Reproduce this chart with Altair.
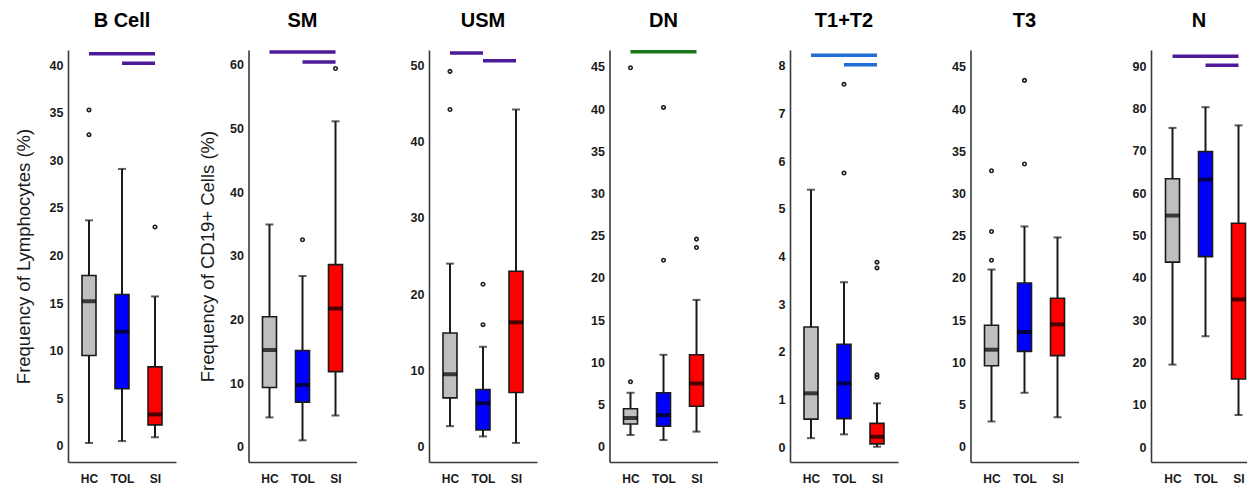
import altair as alt
import pandas as pd

panels = ["B Cell", "SM", "USM", "DN", "T1+T2", "T3", "N"]
groups = ["HC", "TOL", "SI"]
box_colors = ["#bfbfbf", "#0000ff", "#ff0000"]

whisker_low = [
    [0.3, 0.5, 0.9],
    [4.6, 1.0, 4.9],
    [2.7, 1.35, 0.5],
    [1.4, 0.8, 1.8],
    [0.19, 0.27, 0.01],
    [3.0, 6.4, 3.5],
    [19.5, 26.2, 7.6],
]
q1 = [
    [9.5, 6.0, 2.2],
    [9.3, 7.0, 11.8],
    [6.4, 2.2, 7.1],
    [2.7, 2.45, 4.8],
    [0.59, 0.60, 0.07],
    [9.6, 11.3, 10.8],
    [43.7, 45.0, 16.1],
]
median = [
    [15.2, 12.0, 3.3],
    [15.2, 9.7, 21.7],
    [9.5, 5.7, 16.3],
    [3.4, 3.75, 7.5],
    [1.13, 1.34, 0.22],
    [11.5, 13.6, 14.5],
    [54.7, 63.2, 34.9],
]
q3 = [
    [17.9, 15.9, 8.3],
    [20.4, 15.1, 28.6],
    [14.9, 7.5, 23.0],
    [4.5, 6.4, 10.9],
    [2.52, 2.16, 0.50],
    [14.4, 19.4, 17.6],
    [63.4, 69.8, 52.9],
]
whisker_high = [
    [23.7, 29.1, 15.7],
    [34.9, 26.8, 51.1],
    [24.0, 13.1, 44.2],
    [6.4, 10.9, 17.4],
    [5.40, 3.46, 0.92],
    [21.0, 26.1, 24.8],
    [75.4, 80.3, 76.0],
]
outliers = [
    [[35.3, 32.7], [], [23.0]],
    [[], [32.5], [59.4]],
    [[49.2, 44.2], [21.3, 16.0], []],
    [[44.9, 7.7], [40.2, 22.1], [24.6, 23.6]],
    [[], [7.61, 5.75], [3.88, 3.76, 1.52, 1.47]],
    [[32.7, 25.5, 22.1], [43.4, 33.5], []],
    [[], [], []],
]
sig_start = [["HC", "TOL"], ["HC", "TOL"], ["HC", "TOL"], ["HC"], ["HC", "TOL"], [], ["HC", "TOL"]]
sig_end = [["SI", "SI"], ["SI", "SI"], ["TOL", "SI"], ["SI"], ["SI", "SI"], [], ["SI", "SI"]]
sig_y = [[41.2, 40.2], [62.0, 60.4], [51.6, 50.6], [46.8], [8.22, 8.02], [], [92.3, 90.2]]
sig_colors = ["#4d1a99", "#4d1a99", "#4d1a99", "#1a7a1a", "#1f6fd6", "#4d1a99", "#4d1a99"]

y_titles = ["Frequency of Lymphocytes (%)", "Frequency of CD19+ Cells (%)", None, None, None, None, None]
y_title_x = [-39, -35, 0, 0, 0, 0, 0]
y_ticks = [
    list(range(0, 41, 5)),
    list(range(0, 61, 10)),
    list(range(0, 51, 10)),
    list(range(0, 46, 5)),
    list(range(0, 9, 1)),
    list(range(0, 46, 5)),
    list(range(0, 91, 10)),
]
y_domains = [
    [-1.7, 41.6],
    [-2.4, 62.3],
    [-2.0, 52.0],
    [-1.8, 47.0],
    [-0.31, 8.33],
    [-1.8, 47.0],
    [-3.5, 93.8],
]

FONT = "Liberation Sans"
H = 412
INK = "#1a1a1a"
AXIS = "#3a3a3a"

charts = []
for i, name in enumerate(panels):
    last = i == len(panels) - 1
    W = 96 if last else 108
    xscale = alt.Scale(type="point", domain=groups,
                       padding=0.4545 if last else 0.636,
                       align=0.7167 if last else 0.5)
    xenc = alt.X("group:N", sort=groups, scale=xscale,
                 axis=alt.Axis(title=None, labelAngle=0, ticks=False, tickSize=0,
                               labelFont=FONT, labelFontSize=12, labelFontWeight="bold",
                               labelColor=INK, labelPadding=11, domainColor=AXIS,
                               domainWidth=1.6, grid=False))
    yaxis_kwargs = dict(values=y_ticks[i], ticks=False, tickSize=0, grid=False,
                        labelFont=FONT, labelFontSize=12.5, labelFontWeight="bold",
                        labelColor=INK, labelPadding=5, domainColor=AXIS,
                        domainWidth=1.6)
    if y_titles[i]:
        yaxis_kwargs.update(title=y_titles[i], titleFont=FONT, titleFontSize=18.5,
                            titleFontWeight="normal", titleColor=INK, titleAngle=270,
                            titleAlign="center", titleBaseline="alphabetic",
                            titleX=y_title_x[i], titleY=H / 2)
    else:
        yaxis_kwargs.update(title=None)
    yscale = alt.Scale(domain=y_domains[i], nice=False, zero=False)

    box_df = pd.DataFrame({
        "group": groups,
        "lo": whisker_low[i],
        "q1": q1[i],
        "med": median[i],
        "q3": q3[i],
        "hi": whisker_high[i],
    })
    base = alt.Chart(box_df)
    yq = lambda f: alt.Y(f"{f}:Q", scale=yscale, axis=alt.Axis(**yaxis_kwargs))

    whisk = base.mark_rule(color=INK, strokeWidth=2).encode(x=xenc, y=yq("lo"), y2="hi:Q")
    cap_lo = base.mark_tick(color=INK, size=8, thickness=2).encode(x=xenc, y=yq("lo"))
    cap_hi = base.mark_tick(color=INK, size=8, thickness=2).encode(x=xenc, y=yq("hi"))
    box = base.mark_bar(size=14, stroke=INK, strokeWidth=1.6).encode(
        x=xenc, y=yq("q1"), y2="q3:Q",
        color=alt.Color("group:N", scale=alt.Scale(domain=groups, range=box_colors), legend=None))
    med = base.mark_tick(color="black", size=14, thickness=4).encode(x=xenc, y=yq("med"))
    layers = [whisk, cap_lo, cap_hi, box, med]

    out_rows = [(g, v) for g, vals in zip(groups, outliers[i]) for v in vals]
    if out_rows:
        out_df = pd.DataFrame(out_rows, columns=["group", "val"])
        pts = alt.Chart(out_df).mark_point(shape="circle", filled=False, size=12,
                                           strokeWidth=1.6, color=INK, opacity=1).encode(
            x=xenc, y=yq("val"))
        layers.append(pts)

    if sig_y[i]:
        sig_df = pd.DataFrame({"group": sig_start[i], "end": sig_end[i], "yv": sig_y[i]})
        sig = alt.Chart(sig_df).mark_rule(strokeWidth=3.5, color=sig_colors[i]).encode(
            x=xenc, x2="end:N", y=yq("yv"))
        layers.append(sig)

    panel = alt.layer(*layers).properties(
        width=W, height=H,
        title=alt.TitleParams(name, font=FONT, fontSize=20, fontWeight="bold",
                              color="black", baseline="alphabetic", offset=3,
                              anchor="middle", frame="group"))
    charts.append(panel)

chart = alt.hconcat(*charts, spacing=72.5, bounds="flush").resolve_scale(
    y="independent", x="independent", color="independent"
).properties(
    padding={"left": 5, "top": 2, "right": 0, "bottom": 0}
).configure_view(stroke=None)

chart.save("out.html", embed_options={"renderer": "svg", "actions": False})
